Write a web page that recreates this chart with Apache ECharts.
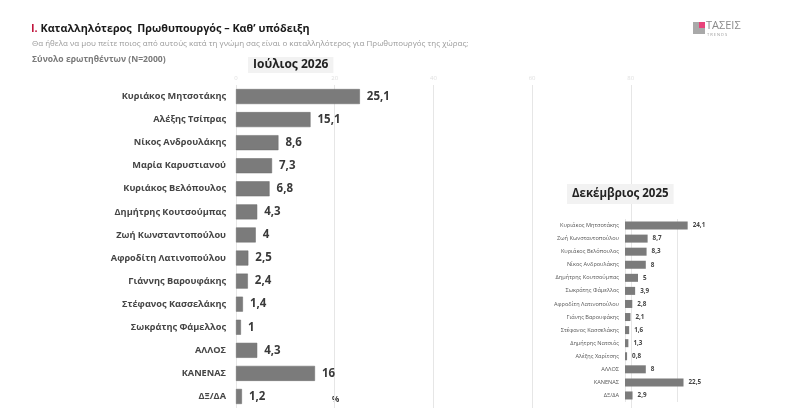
<!DOCTYPE html>
<html><head><meta charset="utf-8">
<script src="https://cdn.jsdelivr.net/npm/echarts@6/dist/echarts.min.js"></script>
<style>html,body{margin:0;padding:0;background:#fff}#c{width:800px;height:412px}</style>
</head><body><div id="c"></div>
<script>
const julyNames = ['Κυριάκος Μητσοτάκης','Αλέξης Τσίπρας','Νίκος Ανδρουλάκης','Μαρία Καρυστιανού','Κυριάκος Βελόπουλος','Δημήτρης Κουτσούμπας','Ζωή Κωνσταντοπούλου','Αφροδίτη Λατινοπούλου','Γιάννης Βαρουφάκης','Στέφανος Κασσελάκης','Σωκράτης Φάμελλος','ΑΛΛΟΣ','ΚΑΝΕΝΑΣ','ΔΞ/ΔΑ'];
const julyValues = [25.1,15.1,8.6,7.3,6.8,4.3,4,2.5,2.4,1.4,1,4.3,16,1.2];
const decNames = ['Κυριάκος Μητσοτάκης','Ζωή Κωνσταντοπούλου','Κυριάκος Βελόπουλος','Νίκος Ανδρουλάκης','Δημήτρης Κουτσούμπας','Σωκράτης Φάμελλος','Αφροδίτη Λατινοπούλου','Γιάνης Βαρουφάκης','Στέφανος Κασσελάκης','Δημήτρης Νατσιός','Αλέξης Χαρίτσης','ΑΛΛΟΣ','ΚΑΝΕΝΑΣ','ΔΞ/ΔΑ'];
const decValues = [24.1,8.7,8.3,8,5,3.9,2.8,2.1,1.6,1.3,0.8,8,22.5,2.9];
const julyTicks = [0,20,40,60,80];
const titleText = 'Καταλληλότερος  Πρωθυπουργός – Καθ’ υπόδειξη';
const subtitleText = 'Θα ήθελα να μου πείτε ποιος από αυτούς κατά τη γνώμη σας είναι ο καταλληλότερος για Πρωθυπουργός της χώρας;';
const baseText = 'Σύνολο ερωτηθέντων (N=2000)';

const FONT = '"Open Sans", "Noto Sans", sans-serif';
const fmt = p => String(p.value).replace('.', ',');
const chart = echarts.init(document.getElementById('c'), null, {renderer:'canvas'});
chart.setOption({
  animation:false,
  backgroundColor:'#fff',
  textStyle:{fontFamily:FONT},
  title:[
    {text:'{r|Ι.} ' + titleText, left:26, top:18, textStyle:{fontSize:10.8, fontWeight:'bold', color:'#1a1a1a', fontFamily:FONT, rich:{r:{color:'#c0143c', fontSize:10.8, fontWeight:'bold', fontFamily:FONT}}}},
    {text:subtitleText, left:27, top:35, textStyle:{fontSize:8, fontWeight:'normal', color:'#9a9a9a', fontFamily:FONT}},
    {text:baseText, left:27, top:50, textStyle:{fontSize:8.6, fontWeight:'bold', color:'#7a7a7a', fontFamily:FONT}},
    {text:'Ιούλιος 2026', left:248, top:57, backgroundColor:'#f2f2f2', padding:[2,5,2,5], textStyle:{fontSize:12, fontWeight:'bold', color:'#222', fontFamily:FONT}},
    {text:'Δεκέμβριος 2025', left:567, top:184, backgroundColor:'#f2f2f2', padding:[4,5,4,5], textStyle:{fontSize:11.5, fontWeight:'bold', color:'#222', fontFamily:FONT}}
  ],
  grid:[
    {left:236, top:85, width:394.8, height:323, containLabel:false},
    {left:625, top:219, width:104, height:183, containLabel:false}
  ],
  xAxis:[
    {gridIndex:0, type:'value', min:0, max:80, interval:20, position:'top',
     axisLine:{show:false}, axisTick:{show:false},
     axisLabel:{color:'#e0e0e0', fontSize:6, margin:4},
     splitLine:{lineStyle:{color:'#e6e6e6', width:1}}},
    {gridIndex:1, type:'value', min:0, max:40, interval:20, position:'top',
     axisLine:{show:false}, axisTick:{show:false}, axisLabel:{show:false},
     splitLine:{showMaxLine:false, lineStyle:{color:'#e6e6e6', width:1}}}
  ],
  yAxis:[
    {gridIndex:0, type:'category', data:julyNames, inverse:true,
     axisLine:{show:false}, axisTick:{show:false},
     axisLabel:{color:'#454545', fontSize:9.2, fontWeight:'bold', margin:10, fontFamily:FONT}},
    {gridIndex:1, type:'category', data:decNames, inverse:true,
     axisLine:{show:false}, axisTick:{show:false},
     axisLabel:{color:'#555', fontSize:5.6, margin:6, fontFamily:FONT}}
  ],
  series:[
    {type:'bar', xAxisIndex:0, yAxisIndex:0, data:julyValues, barWidth:15,
     itemStyle:{color:'#7b7b7b', borderColor:'#6a6a6a', borderWidth:0.5},
     label:{show:true, position:'right', distance:7, formatter:fmt, color:'#3a3a3a', fontSize:11.5, fontWeight:'bold', fontFamily:FONT}},
    {type:'bar', xAxisIndex:1, yAxisIndex:1, data:decValues, barWidth:8,
     itemStyle:{color:'#7b7b7b'},
     label:{show:true, position:'right', distance:5, formatter:fmt, color:'#444', fontSize:6.3, fontWeight:'bold', fontFamily:FONT}}
  ],
  graphic:[
    {type:'text', left:332, top:396, style:{text:'%', fontSize:8, fontWeight:'bold', fill:'#333', fontFamily:FONT}},
    {type:'rect', shape:{x:693, y:22, width:12, height:12}, style:{fill:'#a9a9a9'}},
    {type:'rect', shape:{x:699, y:22, width:6, height:6}, style:{fill:'#e8437a'}},
    {type:'text', left:706, top:20, style:{text:'ΤΑΣΕΙΣ', fontSize:11, fill:'#8a8a8a', fontFamily:FONT}},
    {type:'text', left:707, top:33, style:{text:'T R E N D S', fontSize:4, fill:'#999', fontFamily:FONT}}
  ]
});
</script></body></html>
